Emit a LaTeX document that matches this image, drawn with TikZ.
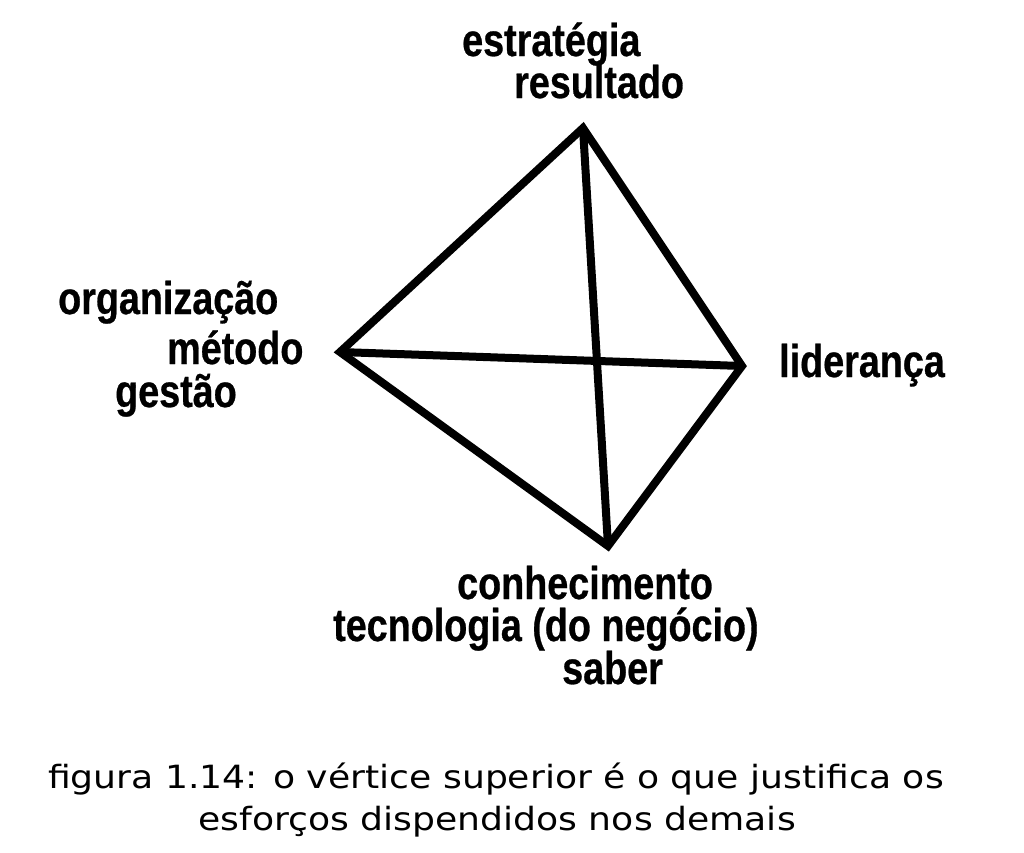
\documentclass[tikz,border=0pt]{standalone}
\usepackage{fontspec}
\setmainfont{Liberation Sans}
\newfontfamily\labelfont[FakeStretch=0.82, FakeBold=0.6]{Liberation Sans Bold}
\newfontfamily\captionfont[FakeStretch=1.13]{DejaVu Sans}

\tikzstyle{lbl}=[anchor=base west, inner sep=0pt, font=\labelfont\fontsize{46}{46}\selectfont]
\tikzstyle{captionline}=[anchor=base, inner sep=0pt, font=\captionfont\fontsize{32}{32}\selectfont]
\tikzstyle{edgeline}=[line width=8pt, line join=miter, black]

\begin{document}
\begin{tikzpicture}[x=1pt, y=-1pt]
    \useasboundingbox (0,0) rectangle (1024,852);

    \coordinate (top) at (583,128);
    \coordinate (left) at (340,352);
    \coordinate (right) at (742,366);
    \coordinate (bottom) at (608,546);

    \draw[edgeline] (top) -- (right) -- (bottom) -- (left) -- cycle;
    \draw[edgeline] (left) -- (right);
    \draw[edgeline] (top) -- (bottom);

    \node[lbl] (estrategia) at (462,56) {estratégia};
    \node[lbl] (resultado) at (514,98) {resultado};

    \node[lbl] (organizacao) at (58,314) {organização};
    \node[lbl] (metodo) at (167,364) {método};
    \node[lbl] (gestao) at (115,407) {gestão};

    \node[lbl] (lideranca) at (779,377) {liderança};

    \node[lbl] (conhecimento) at (457,599) {conhecimento};
    \node[lbl] (tecnologia) at (333,641) {tecnologia (do negócio)};
    \node[lbl] (saber) at (562,684) {saber};

    \node[captionline] (caption1) at (496,788) {figura 1.14: o vértice superior é o que justifica os};
    \node[captionline] (caption2) at (497,830) {esforços dispendidos nos demais};
\end{tikzpicture}
\end{document}
